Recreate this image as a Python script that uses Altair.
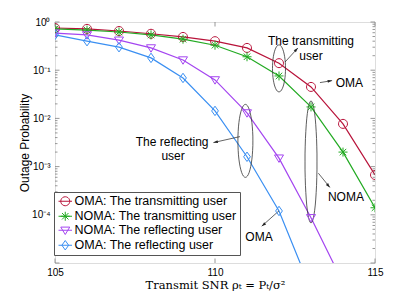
import altair as alt
import pandas as pd
import numpy as np

# ---------------- data ----------------
snr = [105, 106, 107, 108, 109, 110, 111, 112, 113, 114, 115]
oma_trans = [0.75, 0.72, 0.65, 0.57, 0.49, 0.40, 0.29, 0.14, 0.045, 0.0077, 6.7e-4]
noma_trans = [0.72, 0.68, 0.62, 0.54, 0.44, 0.33, 0.19, 0.076, 0.0173, 0.0020, 1.4e-4]
noma_refl = [0.59, 0.54, 0.42, 0.29, 0.163, 0.063, 0.013, 0.0015, 8.7e-5, 3.9e-6]
oma_refl = [0.54, 0.40, 0.30, 0.18, 0.069, 0.0143, 0.0016, 1.2e-4, 2.8e-6]

series_names = ["OMA: The transmitting user", "NOMA: The transmitting user",
                "NOMA: The reflecting user", "OMA: The reflecting user"]
series_values = [oma_trans, noma_trans, noma_refl, oma_refl]
colors = ["#b8133a", "#22aa22", "#a445f0", "#3a8ff2"]

y_tick_values = [1, 0.1, 0.01, 0.001, 0.0001]
x_tick_values = [105, 110, 115]

# annotation texts (data coordinates)
ann_x = [113.0, 113.0, 114.2, 108.66, 108.69, 114.09, 111.375]
ann_y = [0.40, 0.197, 0.0537, 0.00327, 0.00168, 2.3e-4, 3.5e-5]
ann_text = ["The transmitting", "user", "OMA", "The reflecting", "user", "NOMA", "OMA"]

# ellipses: centre x, centre y, width px, height px
ell_x = [112.0, 110.95, 113.0]
ell_y = [0.109, 0.00342, 0.00125]
ell_w = [13, 15, 12]
ell_h = [47, 73, 122]

# arrows: start -> end (head at end), head angle
arr_x = [112.19, 113.28, 110.78, 113.23, 112.0]
arr_y = [0.148, 0.0553, 0.00419, 7.3e-4, 1.21e-4]
arr_x2 = [112.59, 113.66, 109.95, 113.59, 111.46]
arr_y2 = [0.289, 0.0608, 0.00315, 3.7e-4, 5.8e-5]
arr_ang = [43, 80, 257.5, 140, 229.6]

# ---------------- shapes ----------------
def ring(rx, ry, n=28):
    t = np.linspace(0, 2 * np.pi, n, endpoint=False)
    pts = [f"{rx*np.cos(a):.3f},{ry*np.sin(a):.3f}" for a in t]
    return "M" + "L".join(pts) + "Z"

circle_p = ring(1, 1, 20)
star_p = "M0,-1L0,1M-1,0L1,0M-0.72,-0.72L0.72,0.72M-0.72,0.72L0.72,-0.72"
tri_p = "M-1,-0.7L1,-0.7L0,0.95Z"
dia_p = "M0,-1.05L0.75,0L0,1.05L-0.75,0Z"
marker_paths = [circle_p, star_p, tri_p, dia_p]
leg_line = "M-1.5,0L1.5,0"
legend_paths = [leg_line + p for p in marker_paths]

# ---------------- tables ----------------
rows = []
for name, vals in zip(series_names, series_values):
    for x, v in zip(snr, vals):
        rows.append({"snr": x, "p": v, "series": name, "hidden": 1e-9})
df = pd.DataFrame(rows)

W, H = 320, 241
FRAME = "#7f7f7f"
xscale = alt.Scale(domain=[105, 115], nice=False, zero=False)
yscale = alt.Scale(type="log", domain=[1e-5, 1], nice=False)
cscale = alt.Scale(domain=series_names, range=colors)
sscale = alt.Scale(domain=series_names, range=marker_paths)
lscale = alt.Scale(domain=series_names, range=legend_paths)

sup = "['10⁰','10⁻¹','10⁻²','10⁻³','10⁻⁴','10⁻⁵']"
x_axis = alt.Axis(values=x_tick_values, format="d", ticks=False, tickSize=0, domain=False, grid=False,
                  labelFlush=False,
                  labelFont="Liberation Sans", labelFontSize=10, labelColor="black", labelPadding=4,
                  title="Transmit SNR  ρₜ = Pₜ/σ²", titleFont="DejaVu Serif", titleFontSize=11.5,
                  titleFontWeight="normal", titleColor="black", titleY=22, titleBaseline="middle")
y_axis = alt.Axis(values=y_tick_values, labelExpr=f"{sup}[-round(log(datum.value)/LN10)]",
                  ticks=False, tickSize=0, domain=False, grid=False, labelFlush=False,
                  labelFont="Liberation Sans", labelFontSize=10, labelColor="black", labelPadding=5,
                  title="Outage Probability", titleFont="Liberation Sans", titleFontSize=12,
                  titleFontWeight="normal", titleColor="black", titleX=-31, titleY=H / 2,
                  titleAngle=270, titleBaseline="middle", titleAlign="center")

def X(field):
    return alt.X(field, scale=xscale, axis=x_axis)

def Y(field):
    return alt.Y(field, scale=yscale, axis=y_axis)

legend = alt.Legend(orient="none", legendX=-1, legendY=170, title=None, padding=3,
                    strokeColor="#555555", fillColor="white",
                    symbolSize=81, symbolStrokeWidth=1, symbolOffset=2, labelFont="Liberation Sans",
                    labelFontSize=12.5, labelColor="black", rowPadding=1, labelOffset=3,
                    labelLimit=400)

base = alt.Chart(df)
lines = base.mark_line(clip=True, strokeWidth=1.2).encode(
    x=X("snr:Q"), y=Y("p:Q"),
    color=alt.Color("series:N", scale=cscale, legend=None),
    detail="series:N",
)
points = base.mark_point(clip=True, filled=False, size=81, strokeWidth=1, opacity=1).encode(
    x=X("snr:Q"), y=Y("p:Q"),
    color=alt.Color("series:N", scale=cscale, legend=None),
    shape=alt.Shape("series:N", scale=sscale, legend=None),
)
# legend carrier: same series, drawn outside the clipped view so only its legend shows
legend_layer = base.mark_point(clip=True, filled=False, size=81, strokeWidth=1, opacity=1).encode(
    x=X("snr:Q"), y=Y("hidden:Q"),
    color=alt.Color("series:N", scale=cscale, legend=legend),
    shape=alt.Shape("series:N", scale=lscale, legend=legend),
)

# inner ticks
ymaj = pd.DataFrame({"v": [10.0 ** e for e in range(-5, 1)]})
ymin = pd.DataFrame({"v": [k * 10.0 ** e for e in range(-5, 0) for k in range(2, 10)]})
xmaj = pd.DataFrame({"v": x_tick_values})

def yticks(d, x0, x1):
    return alt.Chart(d).mark_rule(color=FRAME, strokeWidth=0.8).encode(
        y=Y("v:Q"), x=alt.value(x0), x2=alt.value(x1))

def xticks(d, y0, y1):
    return alt.Chart(d).mark_rule(color=FRAME, strokeWidth=0.8).encode(
        x=X("v:Q"), y=alt.value(y0), y2=alt.value(y1))

tick_layers = [yticks(ymaj, 0, 4.5), yticks(ymin, 0, 2.5), yticks(ymaj, W, W - 4.5), yticks(ymin, W, W - 2.5),
               xticks(xmaj, H, H - 4.5), xticks(xmaj, 0, 4.5)]

# annotations
tdf = pd.DataFrame({"x": ann_x, "y": ann_y, "t": ann_text})
texts = alt.Chart(tdf).mark_text(font="Liberation Sans", fontSize=12, color="black",
                                 align="center", baseline="middle").encode(
    x=X("x:Q"), y=Y("y:Q"), text="t:N")

ell_layers = []
for ex, ey, ew, eh in zip(ell_x, ell_y, ell_w, ell_h):
    edf = pd.DataFrame({"x": [ex], "y": [ey]})
    ell_layers.append(alt.Chart(edf).mark_point(shape=ring(ew / eh, 1, 48), size=eh * eh, filled=False,
                                                stroke="#333333", strokeWidth=0.8, opacity=1).encode(
        x=X("x:Q"), y=Y("y:Q")))

adf = pd.DataFrame({"x": arr_x, "y": arr_y, "x2": arr_x2, "y2": arr_y2, "a": arr_ang})
arrows = alt.Chart(adf).mark_rule(color="#222222", strokeWidth=0.7).encode(
    x=X("x:Q"), y=Y("y:Q"), x2="x2:Q", y2="y2:Q")
heads = alt.Chart(adf).mark_point(shape="M0,0L0.6,1.8L-0.6,1.8Z", size=25, filled=True,
                                  color="#222222", opacity=1).encode(
    x=X("x2:Q"), y=Y("y2:Q"), angle=alt.Angle("a:Q", scale=None))

chart = alt.layer(lines, *tick_layers, *ell_layers, arrows, heads, texts, points, legend_layer).resolve_scale(
    color="independent", shape="independent"
).properties(
    width=W, height=H,
    autosize=alt.AutoSizeParams(type="none"),
    padding={"left": 47, "top": 14, "right": 32, "bottom": 31},
).configure_view(stroke=FRAME, strokeWidth=1.2).configure(background="white")

chart.save("out.html", embed_options={"renderer": "svg", "actions": False})
